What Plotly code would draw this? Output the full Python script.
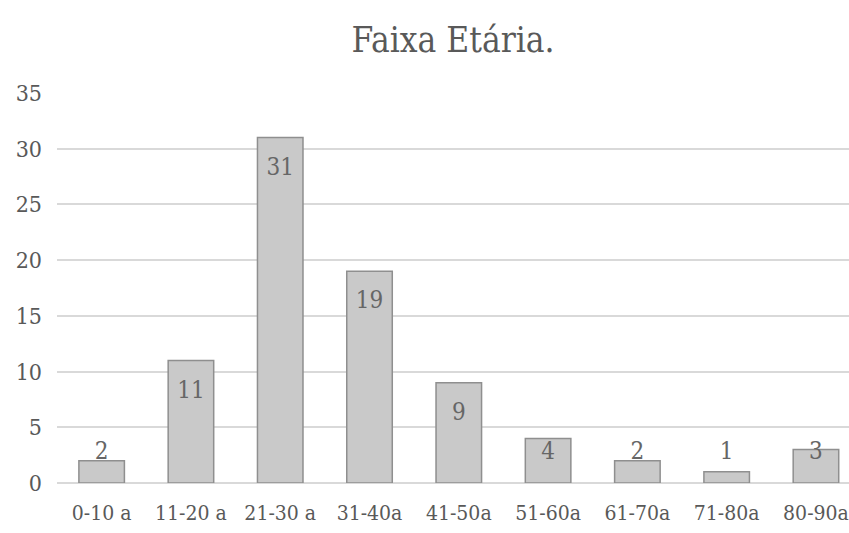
import plotly.graph_objects as go

categories = ["0-10 a", "11-20 a", "21-30 a", "31-40a", "41-50a", "51-60a", "61-70a", "71-80a", "80-90a"]
values = [2, 11, 31, 19, 9, 4, 2, 1, 3]
y_ticks = [0, 5, 10, 15, 20, 25, 30, 35]
title_text = "Faixa Etária."

FONT = "DejaVu Serif Condensed, DejaVu Serif"

# label positions: inside the end of the bar, clamped above a minimum level
label_y = [max(v - 2.8, 2.7) for v in values]

fig = go.Figure()
fig.add_trace(go.Bar(
    x=categories, y=values,
    marker=dict(color="#c9c9c9", line=dict(color="#8f8f8f", width=1.5)),
    showlegend=False, hoverinfo="x+y",
))
fig.add_trace(go.Scatter(
    x=categories, y=label_y, mode="text",
    text=[str(v) for v in values],
    textfont=dict(family=FONT, size=24, color="#666666"),
    showlegend=False, hoverinfo="skip",
))

fig.update_layout(
    width=849, height=533,
    margin=dict(l=57, r=0, t=93, b=50),
    paper_bgcolor="white", plot_bgcolor="white",
    bargap=0.49,
    title=dict(text=title_text, x=0.5, xref="paper", y=1 - 40 / 533, yref="container",
               xanchor="center", yanchor="middle",
               font=dict(family=FONT, size=35, color="#595959")),
    xaxis=dict(
        type="category", range=[-0.5, 8.37],
        showgrid=False, showline=False, zeroline=False,
        tickfont=dict(family=FONT, size=21, color="#595959"),
        ticklabelstandoff=15,
    ),
    yaxis=dict(
        range=[0, 35], tickvals=y_ticks,
        showgrid=True, gridcolor="#d9d9d9", gridwidth=2,
        zeroline=True, zerolinecolor="#d9d9d9", zerolinewidth=2,
        showline=False,
        tickfont=dict(family=FONT, size=23, color="#595959"),
        ticklabelstandoff=14,
    ),
)

fig.write_html("out.html")
